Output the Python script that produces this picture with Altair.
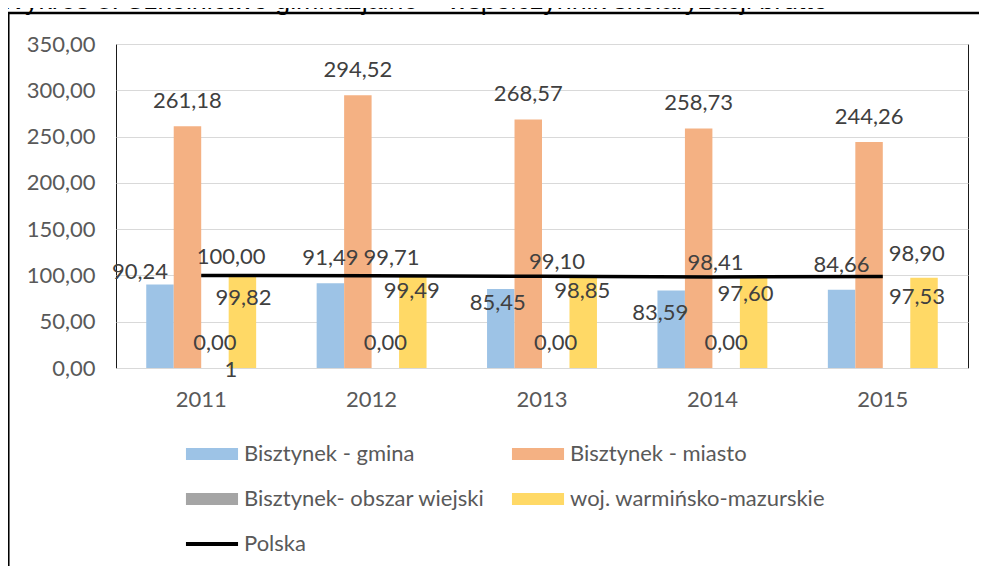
import altair as alt
import pandas as pd

# ---------------- data ----------------
years = ["2011", "2012", "2013", "2014", "2015"]
bar_series = [
    "Bisztynek - gmina",
    "Bisztynek - miasto",
    "Bisztynek- obszar wiejski",
    "woj. warmińsko-mazurskie",
]
line_series = "Polska"

gmina = [90.24, 91.49, 85.45, 83.59, 84.66]
miasto = [261.18, 294.52, 268.57, 258.73, 244.26]
obszar = [0.00, 0.00, 0.00, 0.00, None]
woj = [99.82, 99.49, 98.85, 97.60, 97.53]
polska = [100.00, 99.71, 99.10, 98.41, 98.90]

y_ticks = [0, 50, 100, 150, 200, 250, 300, 350]
title_text = "Wykres 8. Szkolnictwo gimnazjalne – współczynnik skolaryzacji brutto"
colors = ["#9DC3E6", "#F4B183", "#A5A5A5", "#FFD966", "#000000"]

# ---------------- label styling (pixel nudges) ----------------
label_nudges = {
    "Bisztynek - gmina": [(-20, -12), (0, -25), (-3, 14), (-11, 22), (0, -25)],
    "Bisztynek - miasto": [(0, -25)] * 5,
    "Bisztynek- obszar wiejski": [(0, -25)] * 5,
    "woj. warmińsko-mazurskie": [(1, 22), (-1, 15), (-1, 14.5), (-8, 16), (-7, 19)],
    "Polska": [(30, -18), (20, -18), (15, -14), (3, -14), (34, -22)],
}

values_by_series = {
    bar_series[0]: gmina,
    bar_series[1]: miasto,
    bar_series[2]: obszar,
    bar_series[3]: woj,
    line_series: polska,
}

rows = []
for s, vals in values_by_series.items():
    for y, v in zip(years, vals):
        lab = "" if v is None else f"{v:.2f}".replace(".", ",")
        rows.append({"year": y, "series": s, "value": v, "label": lab})
df = pd.DataFrame(rows)

FONT = "Lato"
FS = 22
LABEL_COLOR = "#404040"
AXIS_COLOR = "#595959"

color_scale = alt.Scale(domain=bar_series + [line_series], range=colors)
x_scale = alt.Scale(paddingInner=0.355, paddingOuter=0.1775)
xoff_scale = alt.Scale(domain=bar_series, paddingInner=0, paddingOuter=0)
y_scale = alt.Scale(domain=[0, 350], nice=False)

legend = alt.Legend(
    title=None,
    orient="none",
    direction="horizontal",
    legendX=70,
    legendY=398,
    columns=2,
    columnPadding=26,
    rowPadding=22,
    padding=0,
    symbolSize=576,
    symbolOffset=14,
    symbolStrokeWidth=0,
    symbolOpacity=1,
    symbolType=alt.ExprRef(
        expr="datum.value === 'Polska' ? 'M-2.17,-0.17H2.17V0.17H-2.17Z' : 'M-2.17,-0.5H2.17V0.5H-2.17Z'"
    ),
    labelOffset=20,
    labelFont=FONT,
    labelFontSize=FS,
    labelColor=AXIS_COLOR,
    labelLimit=600,
)

x_enc = alt.X(
    "year:N",
    scale=x_scale,
    sort=years,
    axis=alt.Axis(
        title=None,
        labelAngle=0,
        ticks=False,
        grid=False,
        domainColor="#D9D9D9",
        labelPadding=21,
        labelFont=FONT,
        labelFontSize=FS,
        labelColor=AXIS_COLOR,
    ),
)
y_enc = alt.Y(
    "value:Q",
    scale=y_scale,
    axis=alt.Axis(
        title=None,
        values=y_ticks,
        labelExpr="replace(format(datum.value, '.2f'), '.', ',')",
        domain=False,
        ticks=False,
        labelPadding=21,
        labelFont=FONT,
        labelFontSize=FS,
        labelColor=AXIS_COLOR,
        gridColor="#D9D9D9",
    ),
)

base = alt.Chart(df)

border = alt.Chart(pd.DataFrame({"a": [0]})).mark_rect(
    fillOpacity=0, stroke="black", strokeWidth=2.5
).encode(
    x=alt.value(-107.7), x2=alt.value(871), y=alt.value(-31), y2=alt.value(530)
)

title = alt.Chart(pd.DataFrame({"t": [title_text]})).mark_text(
    align="left", baseline="alphabetic", font="Liberation Sans", fontSize=26.8, color="black"
).encode(text="t:N", x=alt.value(-116), y=alt.value(-35))

bars = base.transform_filter(
    alt.FieldOneOfPredicate(field="series", oneOf=bar_series)
).transform_filter("isValid(datum.value)").mark_bar().encode(
    x=x_enc,
    xOffset=alt.XOffset("series:N", scale=xoff_scale, sort=bar_series),
    y=y_enc,
    color=alt.Color("series:N", scale=color_scale, legend=legend),
)

line = base.transform_filter(alt.datum.series == line_series).mark_line(
    strokeWidth=3.5, color="black"
).encode(
    x=alt.X("year:N", sort=years),
    y="value:Q",
    color=alt.Color("series:N", scale=color_scale, legend=legend),
)

label_layers = []
for s, nudges in label_nudges.items():
    vals = values_by_series[s]
    for y, v, (dx, dy) in zip(years, vals, nudges):
        if v is None:
            continue
        ch = base.transform_filter(
            (alt.datum.series == s) & (alt.datum.year == y)
        ).mark_text(
            dx=dx, dy=dy, font=FONT, fontSize=FS, color=LABEL_COLOR, baseline="middle"
        )
        if s == line_series:
            ch = ch.encode(x=alt.X("year:N", sort=years), y="value:Q", text="label:N")
        else:
            ch = ch.encode(
                x=alt.X("year:N", sort=years),
                xOffset=alt.XOffset("series:N", sort=bar_series),
                y="value:Q",
                text="label:N",
            )
        label_layers.append(ch)

# stray wrapped character under the first "0,00" label
extra = base.transform_filter(
    (alt.datum.series == bar_series[2]) & (alt.datum.year == years[0])
).mark_text(dx=16, dy=2, font=FONT, fontSize=FS, color=LABEL_COLOR, baseline="middle").encode(
    x=alt.X("year:N", sort=years),
    xOffset=alt.XOffset("series:N", sort=bar_series),
    y="value:Q",
    text=alt.value("1"),
)

chart = alt.layer(border, title, bars, line, *label_layers, extra).properties(
    width=852,
    height=324,
    autosize=alt.AutoSizeParams(type="none"),
    padding={"left": 108, "top": 36, "right": 11, "bottom": 198},
).configure_view(stroke="#1a1a1a", strokeWidth=1)

chart.save("out.html", embed_options={"renderer": "svg", "actions": False})
